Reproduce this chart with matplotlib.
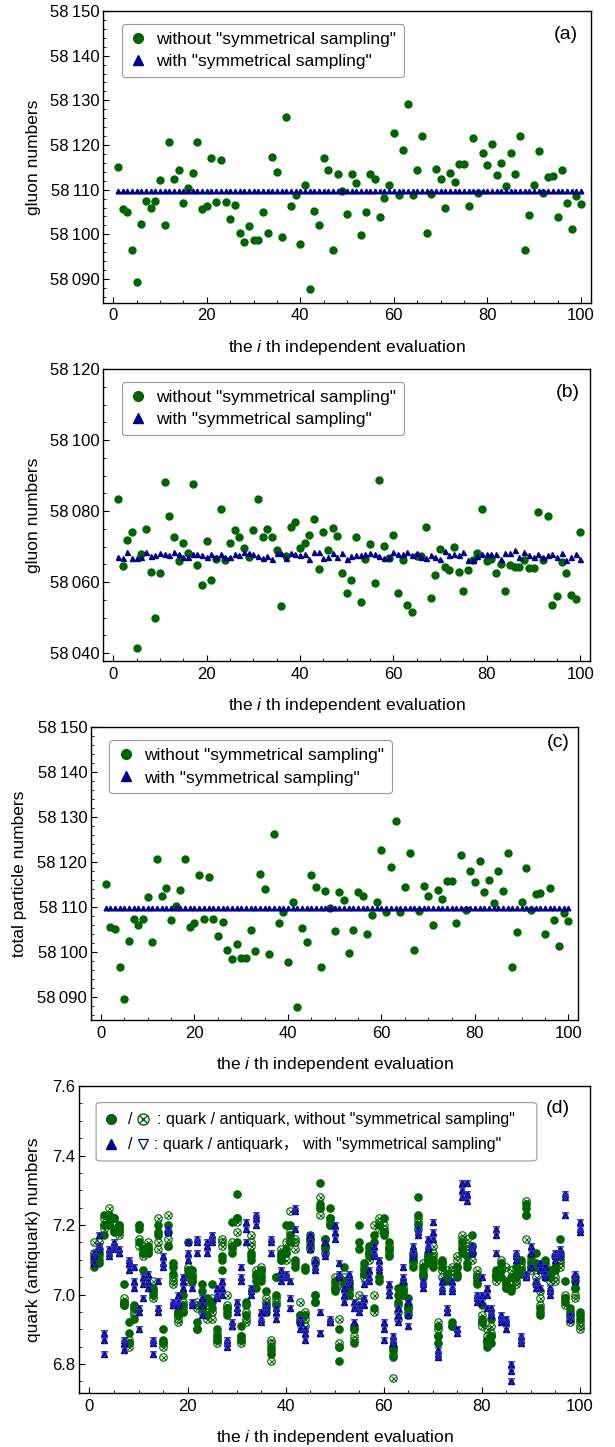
import numpy as np
import matplotlib.pyplot as plt
import matplotlib.ticker as mticker
from matplotlib.lines import Line2D
from matplotlib.patches import FancyBboxPatch

plt.rcParams['font.family'] = ['Liberation Sans', 'Noto Sans CJK SC', 'DejaVu Sans']
plt.rcParams['mathtext.fontset'] = 'custom'
plt.rcParams['mathtext.rm'] = 'Liberation Sans'
plt.rcParams['mathtext.it'] = 'Liberation Sans:italic'

green = '#006400'
blue = '#00008b'
fs = 12
lfs = 12.5

evals = np.arange(1, 101)

# (a) gluon numbers
gluon_nosym_a = [
    58115.1, 58105.6, 58105.0, 58096.6, 58089.4, 58102.3, 58107.4, 58106.0, 58107.4, 58112.2,
    58102.2, 58120.7, 58112.5, 58114.3, 58107.1, 58110.3, 58113.7, 58120.7, 58105.6, 58106.4,
    58117.2, 58107.2, 58116.7, 58107.2, 58103.5, 58106.6, 58100.4, 58098.3, 58101.8, 58098.7,
    58098.7, 58104.9, 58100.2, 58117.4, 58113.9, 58099.4, 58126.3, 58106.3, 58108.8, 58097.8,
    58111.0, 58087.7, 58105.2, 58102.2, 58117.1, 58114.4, 58096.6, 58113.5, 58109.8, 58104.6,
    58113.4, 58111.6, 58099.8, 58104.9, 58113.4, 58112.5, 58103.9, 58108.2, 58111.1, 58122.7,
    58108.9, 58118.9, 58129.1, 58108.9, 58114.4, 58122.0, 58100.4, 58109.0, 58114.6, 58112.5,
    58105.9, 58113.8, 58111.8, 58115.7, 58115.7, 58106.3, 58121.6, 58109.2, 58118.1, 58115.6,
    58120.2, 58113.3, 58116.0, 58110.9, 58118.1, 58113.6, 58122.1, 58096.6, 58104.4, 58111.0,
    58118.7, 58109.2, 58112.8, 58113.1, 58103.9, 58114.3, 58107.1, 58101.3, 58108.6, 58106.8]
gluon_sym_a = [58109.8] * 100

# (b) gluon numbers
gluon_nosym_b = [
    58083.3, 58064.5, 58072.0, 58074.1, 58041.6, 58068.0, 58075.0, 58062.9, 58050.0, 58062.7,
    58088.3, 58078.6, 58072.6, 58065.9, 58071.0, 58068.1, 58087.5, 58064.9, 58059.1, 58071.7,
    58060.7, 58066.5, 58080.5, 58066.3, 58071.1, 58074.6, 58072.6, 58069.6, 58067.1, 58074.7,
    58083.3, 58072.8, 58074.9, 58072.7, 58069.1, 58053.2, 58067.4, 58075.5, 58076.9, 58069.7,
    58071.0, 58073.4, 58077.9, 58063.8, 58074.1, 58069.0, 58075.2, 58072.9, 58062.7, 58057.0,
    58060.7, 58072.8, 58054.3, 58066.6, 58070.7, 58059.7, 58088.8, 58070.3, 58066.9, 58073.2,
    58057.0, 58066.3, 58053.5, 58051.7, 58067.3, 58067.4, 58075.6, 58055.5, 58062.1, 58069.2,
    58064.4, 58063.4, 58069.8, 58062.9, 58057.6, 58063.5, 58066.1, 58068.1, 58080.6, 58066.0,
    58066.4, 58062.7, 58065.0, 58057.6, 58064.9, 58064.4, 58064.4, 58066.2, 58063.9, 58064.0,
    58079.8, 58066.1, 58078.7, 58053.5, 58056.1, 58065.7, 58062.7, 58056.3, 58055.2, 58074.0]
gluon_sym_b = [
    58067.1, 58066.9, 58068.5, 58066.9, 58066.9, 58067.0, 58068.4, 58067.3, 58067.6, 58068.1,
    58067.8, 58067.6, 58068.5, 58067.9, 58067.2, 58067.2, 58067.9, 58067.9, 58067.7, 58067.2,
    58068.0, 58067.2, 58068.0, 58067.0, 58067.0, 58067.9, 58067.7, 58068.5, 58068.1, 58068.0,
    58067.4, 58066.7, 58067.4, 58066.6, 58068.3, 58068.1, 58066.9, 58068.1, 58067.9, 58067.6,
    58068.0, 58066.5, 58068.4, 58068.4, 58066.9, 58067.2, 58068.3, 58067.0, 58068.3, 58066.6,
    58067.4, 58067.7, 58067.7, 58068.0, 58068.1, 58068.0, 58067.4, 58066.9, 58067.2, 58068.5,
    58068.0, 58067.9, 58068.5, 58067.7, 58068.1, 58067.2, 58066.8, 58067.6, 58067.2, 58066.5,
    58068.8, 58067.7, 58067.8, 58067.7, 58068.5, 58066.1, 58066.1, 58067.4, 58068.0, 58068.0,
    58068.0, 58068.0, 58066.6, 58068.1, 58068.1, 58069.1, 58067.0, 58068.6, 58067.7, 58067.2,
    58067.9, 58067.2, 58067.6, 58068.0, 58067.2, 58068.1, 58066.3, 58067.2, 58067.8, 58066.6]

# (c) total particle numbers (same values as read in (a))
total_nosym = list(gluon_nosym_a)
total_sym = [58109.8] * 100

# (d) quark / antiquark numbers, three values per evaluation
quark_sym = [
    (7.12, 7.11, 7.09), (7.17, 7.14, 7.13), (6.89, 6.87, 6.83), (7.13, 7.12, 7.11), (7.15, 7.14, 7.13),
    (7.13, 7.12, 7.12), (6.87, 6.86, 6.84), (7.10, 7.09, 7.07), (7.08, 7.04, 7.02), (6.96, 6.95, 6.90),
    (7.05, 7.03, 6.99), (7.06, 7.04, 7.02), (6.87, 6.86, 6.83), (7.04, 6.96, 6.95), (7.11, 7.09, 7.08),
    (7.19, 7.18, 7.18), (6.98, 6.97, 6.97), (7.00, 6.98, 6.97), (7.05, 7.04, 7.02), (7.15, 7.12, 7.10),
    (7.02, 6.98, 6.97), (7.16, 7.15, 7.12), (6.99, 6.97, 6.94), (7.15, 7.14, 7.12), (7.17, 7.16, 7.15),
    (7.02, 7.00, 6.99), (7.04, 7.02, 7.00), (6.87, 6.86, 6.85), (6.92, 6.91, 6.91), (6.98, 6.96, 6.95),
    (7.08, 7.05, 7.04), (7.21, 7.19, 7.15), (7.02, 7.01, 7.00), (7.23, 7.22, 7.20), (6.95, 6.93, 6.92),
    (6.97, 6.96, 6.95), (7.16, 7.15, 7.12), (6.96, 6.95, 6.93), (7.07, 7.05, 7.04), (7.06, 7.05, 7.05),
    (7.04, 6.99, 6.96), (7.25, 7.24, 7.19), (6.93, 6.92, 6.90), (6.90, 6.89, 6.87), (7.17, 7.15, 7.13),
    (7.10, 7.08, 7.07), (6.95, 6.89, 6.89), (7.15, 7.12, 7.11), (6.93, 6.92, 6.92), (7.20, 7.18, 7.16),
    (7.09, 7.06, 7.05), (7.02, 7.00, 6.98), (7.06, 7.04, 7.03), (6.98, 6.96, 6.92), (6.97, 6.96, 6.95),
    (7.03, 6.99, 6.97), (7.07, 7.05, 7.04), (7.14, 7.12, 7.11), (7.10, 7.08, 7.07), (6.92, 6.90, 6.87),
    (7.03, 7.01, 7.00), (6.88, 6.87, 6.86), (6.96, 6.94, 6.92), (7.08, 7.05, 7.04), (6.98, 6.94, 6.91),
    (7.14, 7.12, 7.11), (7.19, 7.18, 7.17), (7.04, 7.03, 7.02), (7.16, 7.14, 7.13), (7.21, 7.18, 7.16),
    (6.84, 6.83, 6.82), (7.04, 7.02, 7.01), (6.96, 6.95, 6.95), (7.04, 7.02, 7.01), (6.90, 6.90, 6.89),
    (7.32, 7.30, 7.28), (7.32, 7.29, 7.27), (7.14, 7.13, 7.12), (7.00, 6.99, 6.98), (7.05, 7.00, 6.98),
    (7.02, 7.00, 6.96), (6.96, 6.95, 6.94), (7.19, 7.17, 7.12), (6.94, 6.93, 6.92), (6.93, 6.92, 6.90),
    (6.80, 6.78, 6.75), (7.12, 7.11, 7.10), (6.88, 6.87, 6.86), (7.06, 7.05, 7.05), (7.14, 7.12, 7.08),
    (7.04, 7.03, 7.02), (7.09, 7.07, 7.02), (7.08, 7.06, 7.05), (7.02, 7.01, 7.00), (7.12, 7.11, 7.10),
    (7.13, 7.12, 7.11), (7.29, 7.28, 7.23), (6.94, 6.93, 6.93), (7.06, 7.05, 7.04), (7.21, 7.19, 7.18)]
# with symmetrical sampling the antiquark numbers equal the quark numbers
antiquark_sym = list(quark_sym)

quark_nosym = [
    (7.11, 7.09, 7.08), (7.12, 7.10, 7.09), (7.23, 7.20, 7.17), (7.23, 7.21, 7.20), (7.22, 7.19, 7.18),
    (7.20, 7.19, 7.18), (7.03, 6.98, 6.97), (6.92, 6.89, 6.86), (6.97, 6.96, 6.93), (7.20, 7.19, 7.15),
    (7.13, 7.12, 7.07), (7.14, 7.13, 7.12), (7.02, 7.01, 7.00), (7.20, 7.18, 7.17), (6.90, 6.87, 6.86),
    (7.20, 7.18, 7.14), (7.09, 7.08, 7.06), (6.95, 6.94, 6.94), (7.00, 6.97, 6.95), (7.15, 7.07, 7.06),
    (7.07, 7.05, 7.04), (6.92, 6.90, 6.90), (7.03, 7.01, 6.96), (6.99, 6.98, 6.94), (7.03, 6.98, 6.96),
    (6.90, 6.88, 6.87), (7.11, 7.10, 7.07), (6.96, 6.95, 6.94), (7.21, 7.14, 7.12), (7.29, 7.22, 7.15),
    (6.91, 6.88, 6.87), (6.98, 6.97, 6.94), (7.12, 7.11, 7.10), (7.06, 7.04, 7.02), (7.07, 7.05, 7.04),
    (7.01, 6.97, 6.95), (6.85, 6.84, 6.83), (7.05, 7.00, 6.97), (7.12, 7.11, 7.10), (7.20, 7.13, 7.12),
    (7.20, 7.17, 7.15), (7.10, 7.09, 7.08), (6.94, 6.93, 6.92), (7.08, 7.07, 6.94), (7.17, 7.16, 7.14),
    (7.09, 7.00, 6.98), (7.32, 7.26, 7.25), (7.16, 7.14, 7.13), (7.25, 7.22, 7.20), (7.04, 7.02, 7.01),
    (6.90, 6.85, 6.81), (7.08, 7.04, 7.03), (7.04, 7.02, 7.00), (6.91, 6.90, 6.86), (7.20, 7.15, 7.13),
    (7.09, 7.07, 7.06), (7.14, 7.12, 7.11), (7.17, 7.15, 6.96), (7.20, 7.05, 7.04), (7.22, 7.18, 7.17),
    (7.15, 7.13, 7.11), (6.85, 6.84, 6.82), (7.02, 7.00, 6.98), (7.03, 7.01, 7.00), (6.99, 6.96, 6.94),
    (7.12, 7.10, 7.08), (7.28, 7.23, 7.20), (7.08, 7.06, 7.05), (7.11, 7.10, 7.09), (7.10, 7.09, 7.08),
    (6.91, 6.88, 6.86), (7.10, 7.09, 7.08), (7.06, 7.05, 7.04), (6.92, 6.91, 6.91), (7.08, 7.06, 7.05),
    (7.15, 7.13, 7.12), (7.11, 7.09, 7.08), (7.17, 7.14, 7.12), (7.05, 7.04, 7.03), (6.97, 6.93, 6.92),
    (6.87, 6.86, 6.85), (6.93, 6.88, 6.86), (7.07, 7.06, 7.05), (7.09, 7.07, 7.05), (7.04, 7.03, 7.02),
    (7.05, 7.02, 7.01), (7.08, 7.06, 7.05), (7.10, 7.07, 7.06), (7.26, 7.25, 7.23), (7.11, 7.09, 7.08),
    (7.12, 7.09, 7.08), (6.96, 6.95, 6.94), (7.10, 7.09, 7.07), (7.07, 7.06, 7.05), (7.11, 7.08, 7.07),
    (7.16, 7.12, 7.11), (7.04, 6.99, 6.98), (6.96, 6.95, 6.94), (7.05, 7.04, 7.02), (6.95, 6.94, 6.93)]

antiquark_nosym = [
    (7.15, 7.12, 7.10), (7.15, 7.13, 7.11), (7.22, 7.20, 7.19), (7.25, 7.23, 7.22), (7.22, 7.20, 7.19),
    (7.20, 7.19, 7.17), (6.99, 6.98, 6.97), (6.87, 6.86, 6.85), (6.96, 6.95, 6.94), (7.20, 7.16, 7.14),
    (7.14, 7.12, 7.11), (7.15, 7.13, 7.12), (7.04, 7.01, 6.99), (7.22, 7.15, 7.13), (6.86, 6.85, 6.82),
    (7.23, 7.16, 7.14), (7.05, 7.04, 7.03), (6.95, 6.93, 6.92), (6.98, 6.96, 6.95), (7.08, 7.05, 7.04),
    (7.06, 7.05, 7.04), (6.98, 6.97, 6.96), (6.97, 6.96, 6.95), (6.96, 6.94, 6.93), (6.99, 6.95, 6.93),
    (6.89, 6.87, 6.86), (7.16, 7.15, 7.14), (7.00, 6.97, 6.96), (7.15, 7.14, 7.13), (7.22, 7.21, 7.18),
    (6.88, 6.87, 6.86), (6.95, 6.93, 6.92), (7.17, 7.15, 7.14), (7.07, 7.06, 7.05), (7.08, 7.07, 7.06),
    (6.99, 6.98, 6.96), (6.87, 6.86, 6.81), (7.05, 6.99, 6.98), (7.13, 7.11, 7.10), (7.15, 7.12, 7.10),
    (7.24, 7.18, 7.16), (7.16, 7.15, 7.13), (6.98, 6.94, 6.92), (6.95, 6.93, 6.91), (7.16, 7.15, 7.13),
    (7.10, 7.00, 6.98), (7.28, 7.25, 7.23), (7.16, 7.14, 7.12), (7.22, 7.21, 7.20), (7.05, 7.03, 7.02),
    (6.93, 6.86, 6.85), (7.05, 7.03, 7.02), (7.03, 7.01, 7.00), (6.90, 6.88, 6.87), (7.00, 6.98, 6.97),
    (7.08, 7.06, 7.05), (7.13, 7.12, 7.10), (7.20, 7.00, 6.95), (7.22, 7.21, 7.19), (7.20, 7.19, 7.18),
    (7.14, 7.13, 7.12), (6.85, 6.83, 6.76), (6.97, 6.95, 6.93), (7.02, 7.01, 7.00), (6.97, 6.96, 6.95),
    (7.11, 7.10, 7.09), (7.22, 7.21, 7.19), (7.09, 7.07, 7.06), (7.12, 7.11, 7.10), (7.14, 7.12, 7.11),
    (6.92, 6.90, 6.88), (7.09, 7.07, 7.05), (7.07, 7.06, 7.05), (7.08, 7.07, 7.06), (7.11, 7.10, 7.08),
    (7.17, 7.16, 7.14), (7.16, 7.14, 7.13), (7.14, 7.12, 7.10), (7.07, 7.06, 7.05), (6.94, 6.92, 6.91),
    (6.90, 6.88, 6.87), (6.91, 6.89, 6.88), (7.06, 7.05, 7.04), (7.10, 7.08, 7.07), (7.08, 7.03, 7.02),
    (7.07, 7.03, 7.02), (7.06, 7.04, 7.03), (7.09, 7.08, 7.07), (7.27, 7.23, 7.16), (7.10, 7.08, 7.07),
    (7.08, 7.05, 7.03), (7.01, 6.99, 6.97), (7.08, 7.06, 7.05), (7.06, 7.05, 7.04), (7.07, 7.05, 7.04),
    (7.10, 7.09, 7.08), (7.00, 6.99, 6.97), (6.94, 6.93, 6.92), (7.02, 7.00, 6.99), (6.92, 6.91, 6.90)]


def flat(groups):
    xs = np.concatenate([[i] * len(g) for i, g in zip(evals, groups)])
    ys = np.concatenate([np.array(g) for g in groups])
    return xs, ys


def big_fmt(v, pos):
    n = int(round(v))
    return f"{n // 1000}\u2009{n % 1000:03d}"


def style(ax, ylim, major, minor):
    ax.set_xlim(-2.2, 102.1)
    ax.set_ylim(*ylim)
    ax.xaxis.set_major_locator(mticker.MultipleLocator(20))
    ax.xaxis.set_minor_locator(mticker.MultipleLocator(5))
    ax.yaxis.set_major_locator(mticker.MultipleLocator(major))
    ax.yaxis.set_minor_locator(mticker.MultipleLocator(minor))
    ax.tick_params(which='both', direction='in', top=False, right=False, labelsize=fs)
    ax.tick_params(which='major', length=4, width=0.8)
    ax.tick_params(which='minor', length=2.2, width=0.6)
    ax.tick_params(axis='y', pad=2.5)
    ax.tick_params(axis='x', pad=4)
    for s in ax.spines.values():
        s.set_linewidth(1.0)
    ax.set_xlabel("the $i$ th independent evaluation", fontsize=lfs)
    ax.xaxis.set_label_coords(0.5, -0.12)


def legend2(ax):
    handles = [Line2D([], [], ls='none', marker='o', ms=7, color=green,
                      label='without "symmetrical sampling"'),
               Line2D([], [], ls='none', marker='^', ms=7, color=blue,
                      label='with "symmetrical sampling"')]
    leg = ax.legend(handles=handles, loc='upper left', bbox_to_anchor=(0.038, 0.955),
                    borderaxespad=0, fontsize=lfs, frameon=True, fancybox=True,
                    edgecolor='#999999', framealpha=1, handlelength=1.0,
                    handletextpad=0.55, labelspacing=0.4, borderpad=0.45)
    leg.get_frame().set_linewidth(0.8)


W, H = 615, 1447
fig = plt.figure(figsize=(W / 100, H / 100), dpi=100)


def box(l, r, t, b):
    return [l / W, 1 - b / H, (r - l) / W, (b - t) / H]


ax_a = fig.add_axes(box(103, 590.7, 11, 302.7))
ax_b = fig.add_axes(box(103, 590, 369, 661))
ax_c = fig.add_axes(box(90.7, 578.3, 727.3, 1020))
ax_d = fig.add_axes(box(78.7, 590, 1086, 1393.3))

# (a)
ax = ax_a
ax.plot(evals, gluon_nosym_a, ls='none', marker='o', ms=5, color=green, zorder=3)
ax.plot(evals, gluon_sym_a, ls='none', marker='^', ms=3.4, color=blue, zorder=4)
style(ax, (58084.7, 58150), 10, 2)
ax.yaxis.set_major_formatter(mticker.FuncFormatter(big_fmt))
ax.set_ylabel("gluon numbers", fontsize=lfs)
ax.yaxis.set_label_coords(-0.128, 0.5)
legend2(ax)
ax.text(0.949, 0.921, "(a)", transform=ax.transAxes, fontsize=14, ha='center', va='center')

# (b)
ax = ax_b
ax.plot(evals, gluon_nosym_b, ls='none', marker='o', ms=5, color=green, zorder=3)
ax.plot(evals, gluon_sym_b, ls='none', marker='^', ms=3.6, color=blue, zorder=4)
style(ax, (58037.8, 58120), 20, 5)
ax.yaxis.set_major_formatter(mticker.FuncFormatter(big_fmt))
ax.set_ylabel("gluon numbers", fontsize=lfs)
ax.yaxis.set_label_coords(-0.128, 0.5)
legend2(ax)
ax.text(0.954, 0.918, "(b)", transform=ax.transAxes, fontsize=14, ha='center', va='center')

# (c)
ax = ax_c
ax.plot(evals, total_nosym, ls='none', marker='o', ms=5, color=green, zorder=3)
ax.plot(evals, total_sym, ls='none', marker='^', ms=3.4, color=blue, zorder=4)
style(ax, (58084.8, 58150), 10, 2)
ax.yaxis.set_major_formatter(mticker.FuncFormatter(big_fmt))
ax.set_ylabel("total particle numbers", fontsize=lfs)
ax.yaxis.set_label_coords(-0.13, 0.5)
legend2(ax)
ax.text(0.958, 0.948, "(c)", transform=ax.transAxes, fontsize=14, ha='center', va='center')

# (d)
ax = ax_d
xq, yq = flat(quark_nosym)
xa, ya = flat(antiquark_nosym)
xs, ys = flat(quark_sym)
xs2, ys2 = flat(antiquark_sym)
ax.plot(xq, yq, ls='none', marker='o', ms=5.2, color=green, zorder=3)
ax.plot(xa, ya, ls='none', marker='o', ms=5.4, mfc='none', mec=green, mew=0.8, zorder=3)
ax.plot(xa, ya, ls='none', marker='x', ms=3.6, color=green, mew=0.7, zorder=3)
ax.plot(xs, ys, ls='none', marker='^', ms=4, color=blue, zorder=4)
ax.plot(xs2, ys2, ls='none', marker='v', ms=4.4, mfc='none', mec='#3030c0', mew=0.7, zorder=4)
style(ax, (6.716, 7.6), 0.2, 0.05)
ax.yaxis.set_major_formatter(mticker.FormatStrFormatter('%.1f'))
ax.set_ylabel("quark (antiquark) numbers", fontsize=lfs)
ax.yaxis.set_label_coords(-0.074, 0.5)
ax.xaxis.set_label_coords(0.5, -0.113)

frame = FancyBboxPatch((0.034, 0.756), 0.862, 0.19, boxstyle='round,pad=0,rounding_size=0.012',
                       transform=ax.transAxes, fc='white', ec='#999999', lw=0.8, zorder=6,
                       mutation_aspect=0.6)
ax.add_patch(frame)
r1, r2 = 0.892, 0.811
dfs = 11.5
ax.plot([0.0626], [r1], transform=ax.transAxes, ls='none', marker='o', ms=7, color=green, zorder=7)
ax.text(0.100, r1, "/", transform=ax.transAxes, fontsize=dfs, ha='center', va='center', zorder=7)
ax.plot([0.1264], [r1], transform=ax.transAxes, ls='none', marker='o', ms=8, mfc='none',
        mec=green, mew=1.0, zorder=7)
ax.plot([0.1264], [r1], transform=ax.transAxes, ls='none', marker='x', ms=5.4, color=green,
        mew=1.0, zorder=7)
ax.text(0.1525, r1, ': quark / antiquark, without "symmetrical sampling"', transform=ax.transAxes,
        fontsize=dfs, ha='left', va='center', zorder=7)
ax.plot([0.0626], [r2], transform=ax.transAxes, ls='none', marker='^', ms=7, color=blue, zorder=7)
ax.text(0.100, r2, "/", transform=ax.transAxes, fontsize=dfs, ha='center', va='center', zorder=7)
ax.plot([0.126], [r2], transform=ax.transAxes, ls='none', marker='v', ms=7, mfc='none',
        mec=blue, mew=0.9, zorder=7)
ax.text(0.147, r2, ': quark / antiquark\uff0c with "symmetrical sampling"', transform=ax.transAxes,
        fontsize=dfs, ha='left', va='center', zorder=7)
ax.text(0.937, 0.928, "(d)", transform=ax.transAxes, fontsize=14, ha='center', va='center')

fig.savefig("out.png", dpi=100, facecolor='w')
